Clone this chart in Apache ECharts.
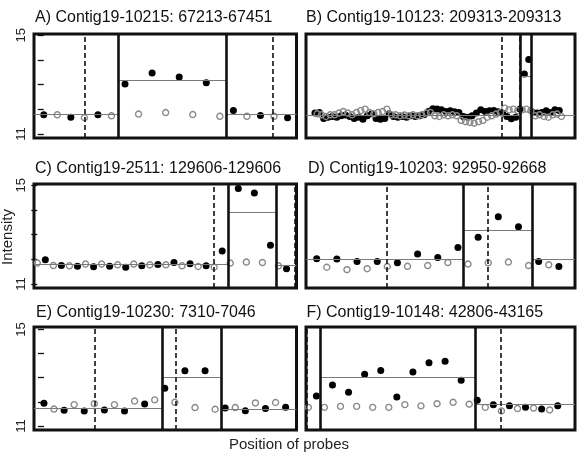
<!DOCTYPE html>
<html>
<head>
<meta charset="utf-8">
<script src="https://cdn.jsdelivr.net/npm/echarts@6/dist/echarts.min.js"></script>
<style>
  html, body { margin: 0; padding: 0; background: #fff; }
  #chart { width: 578px; height: 456px; }
</style>
</head>
<body>
<div id="chart"></div>
<script>
// panel titles
const titles = [
  'A) Contig19-10215: 67213-67451',
  'B) Contig19-10123: 209313-209313',
  'C) Contig19-2511: 129606-129606',
  'D) Contig19-10203: 92950-92668',
  'E) Contig19-10230: 7310-7046',
  'F) Contig19-10148: 42806-43165'
];
const yTicks = [11, 12, 13, 14, 15];
const yLabels = [11, 15];

// A
const blackA = [11.78, 11.68, 11.78, 13.03, 13.47, 13.31, 13.08, 11.95, 11.75, 11.66];
const greyA = [11.78, 11.66, 11.74, 11.81, 11.87, 11.79, 11.72, 11.72, 11.72];
const solidA = [5.53, 13.44];
const dashA = [3.0, 16.93];
const meanA = [11.81, 13.19, 11.81];

// B
const blackB = [11.85, 11.87, 11.63, 11.68, 11.71, 11.68, 11.74, 11.77, 11.71, 11.63,
  11.68, 11.60, 11.74, 11.82, 11.63, 11.60, 11.63, 11.82, 11.71, 11.68,
  11.71, 11.68, 11.74, 11.71, 11.74, 11.78, 11.91, 12.02, 12.01, 11.98,
  11.91, 11.94, 11.90, 11.87, 11.71, 11.68, 11.74, 11.85, 11.98, 11.91,
  11.94, 11.95, 11.90, 11.85, 11.71, 11.62, 11.68, 12.01, 13.43, 14.02,
  11.87, 11.85, 11.87, 11.94, 11.87, 11.98, 11.95];
const greyB = [11.82, 11.78, 11.71, 11.78, 11.78, 11.85, 11.91, 11.85, 11.78, 11.87,
  11.95, 12.01, 11.87, 11.82, 11.87, 11.91, 12.01, 11.78, 11.78, 11.74,
  11.77, 11.74, 11.78, 11.74, 11.78, 11.85, 11.87, 11.74, 11.71, 11.78,
  11.74, 11.78, 11.74, 11.55, 11.50, 11.47, 11.44, 11.50, 11.55, 11.68,
  11.74, 11.81, 11.87, 12.05, 11.98, 12.01, 11.95, 11.98, 12.01, 11.95,
  11.74, 11.78, 11.71, 11.68, 11.78, 11.81, 11.71];
const solidB = [93.9, 99.2];
const dashB = [85.8, 93.9];
const meanB = [11.77, 13.32, 11.76];

// C
const blackC = [11.98, 11.75, 11.72, 11.70, 11.72, 11.68, 11.74, 11.79, 11.87, 11.82,
  11.74, 12.34, 14.87, 14.69, 12.57, 11.62];
const greyC = [11.85, 11.75, 11.74, 11.81, 11.81, 11.78, 11.81, 11.78, 11.78, 11.74,
  11.71, 11.68, 11.85, 11.89, 11.87, 11.74];
const solidC = [23.7, 29.7];
const dashC = [22.0, 32.0];
const meanC = [11.81, 13.89, 11.78];

// D
const blackD = [12.02, 12.01, 11.91, 11.91, 11.86, 12.22, 12.07, 12.48, 12.89, 13.72,
  13.32, 11.91, 11.71];
const greyD = [11.68, 11.58, 11.62, 11.71, 11.72, 11.75, 11.87, 11.81, 11.86, 11.89,
  11.75, 11.78];
const solidD = [14.5, 21.4];
const dashD = [6.97, 17.0];
const meanD = [12.02, 13.19, 12.02];

// E
const blackE = [11.94, 11.65, 11.62, 11.66, 11.62, 11.91, 12.56, 13.29, 13.29, 11.74,
  11.63, 11.72, 11.77];
const greyE = [11.70, 11.88, 11.92, 11.88, 12.03, 12.08, 11.98, 11.76, 11.69, 11.76,
  11.95, 11.97];
const solidE = [11.7, 17.6];
const dashE = [5.05, 13.04];
const meanE = [11.74, 13.01, 11.69];

// F
const blackF = [12.24, 12.70, 12.39, 13.14, 13.30, 12.20, 13.23, 13.62, 13.68, 12.89,
  12.06, 11.88, 11.84, 11.77, 11.70, 11.84];
const greyF = [11.77, 11.77, 11.81, 11.81, 11.77, 11.77, 11.88, 11.83, 11.92, 11.98,
  11.90, 11.77, 11.62, 11.72, 11.74, 11.66];
const solidF = [1.45, 20.7];
const dashF = [-0.2, 23.98];
const meanF = [null, 13.01, 11.90];

// probe order: which probe the first black point sits on, and visible x-range
const firstBlack = [0, 0, 1, 0, 0, 1];
const xRanges = [[-0.72, 18.66], [-4.1, 119.2], [-0.41, 32.24], [-1.06, 25.6], [-0.99, 25.08], [-0.29, 33.15]];

const panels = [
  {black: blackA, grey: greyA, solid: solidA, dash: dashA, mean: meanA},
  {black: blackB, grey: greyB, solid: solidB, dash: dashB, mean: meanB},
  {black: blackC, grey: greyC, solid: solidC, dash: dashC, mean: meanC},
  {black: blackD, grey: greyD, solid: solidD, dash: dashD, mean: meanD},
  {black: blackE, grey: greyE, solid: solidE, dash: dashE, mean: meanE},
  {black: blackF, grey: greyF, solid: solidF, dash: dashF, mean: meanF}
];

// layout
const colLeft = [34, 306];
const colWidth = [262.5, 269];
const rowTop = [34, 184, 327];
const rowHeight = [104, 104, 103];
const rowY = [[10.84, 15.05], [10.84, 15.05], [10.83, 15.10]];
const titleTop = [10, 160.5, 304.5];
const titleLeft = [35, 306, 35, 308, 36, 306.5];
const FONT = '"Liberation Sans", Arial, Helvetica, sans-serif';

const grids = [], xAxes = [], yAxes = [], series = [], titleList = [];

panels.forEach((p, k) => {
  const row = Math.floor(k / 2), col = k % 2;
  grids.push({
    left: colLeft[col], top: rowTop[row], width: colWidth[col], height: rowHeight[row],
    show: true, borderColor: '#111', borderWidth: 3, backgroundColor: 'transparent'
  });
  xAxes.push({
    gridIndex: k, type: 'value', min: xRanges[k][0], max: xRanges[k][1], show: false
  });
  yAxes.push({
    gridIndex: k, type: 'value', min: rowY[row][0], max: rowY[row][1],
    axisLine: {show: false},
    splitLine: {show: false},
    axisTick: {show: col === 0, customValues: yTicks, length: 6, lineStyle: {color: '#111', width: 1.3}},
    axisLabel: {show: col === 0, customValues: yLabels, rotate: 90, margin: 6,
      fontSize: 13, fontFamily: FONT, color: '#222'}
  });
  titleList.push({
    text: titles[k], left: titleLeft[k], top: titleTop[row], padding: 0,
    textStyle: {fontSize: 16, fontWeight: 'normal', fontFamily: FONT, color: '#111'}
  });

  const [xmin, xmax] = xRanges[k];
  const fb = firstBlack[k];
  // segment means: horizontal lines between change points
  const bounds = [xmin].concat(p.solid, [xmax]);
  const segLines = [];
  p.mean.forEach((m, s) => {
    if (m === null) return;
    segLines.push([{coord: [bounds[s], m]}, {coord: [bounds[s + 1], m]}]);
  });
  const vSolid = p.solid.map(v => ({xAxis: v}));
  const vDash = p.dash.map(v => ({xAxis: v}));

  series.push({
    type: 'line', xAxisIndex: k, yAxisIndex: k, data: [], silent: true,
    markLine: {
      silent: true, symbol: ['none', 'none'], label: {show: false}, animation: false,
      lineStyle: {color: '#7a7a7a', width: 1.1, type: 'solid'},
      data: segLines
    }
  });
  series.push({
    type: 'line', xAxisIndex: k, yAxisIndex: k, data: [], silent: true,
    markLine: {
      silent: true, symbol: ['none', 'none'], label: {show: false}, animation: false,
      lineStyle: {color: '#111', width: 1.6, type: [5, 3]},
      data: vDash
    }
  });
  series.push({
    type: 'line', xAxisIndex: k, yAxisIndex: k, data: [], silent: true,
    markLine: {
      silent: true, symbol: ['none', 'none'], label: {show: false}, animation: false,
      lineStyle: {color: '#111', width: 2.6, type: 'solid'},
      data: vSolid
    }
  });
  // tumour probes (filled)
  series.push({
    type: 'scatter', xAxisIndex: k, yAxisIndex: k, symbol: 'circle', symbolSize: 7,
    itemStyle: {color: '#000', opacity: 1},
    data: p.black.map((v, i) => [fb + 2 * i, v])
  });
  // reference probes (open)
  series.push({
    type: 'scatter', xAxisIndex: k, yAxisIndex: k, symbol: 'circle', symbolSize: 6,
    itemStyle: {color: 'rgba(0,0,0,0)', borderColor: '#8a8a8a', borderWidth: 1.4, opacity: 1},
    data: p.grey.map((v, i) => [(1 - fb) + 2 * i, v])
  });
});

const chart = echarts.init(document.getElementById('chart'), null, {renderer: 'canvas'});
chart.setOption({
  animation: false,
  backgroundColor: '#fff',
  title: titleList,
  grid: grids,
  xAxis: xAxes,
  yAxis: yAxes,
  series: series,
  graphic: [
    {
      type: 'text', x: 8, y: 237, rotation: Math.PI / 2,
      style: {text: 'Intensity', font: '15px ' + FONT, fill: '#222', align: 'center', verticalAlign: 'middle'}
    },
    {
      type: 'text', x: 289, y: 445,
      style: {text: 'Position of probes', font: '15px ' + FONT, fill: '#222', align: 'center', verticalAlign: 'middle'}
    }
  ]
});
</script>
</body>
</html>
